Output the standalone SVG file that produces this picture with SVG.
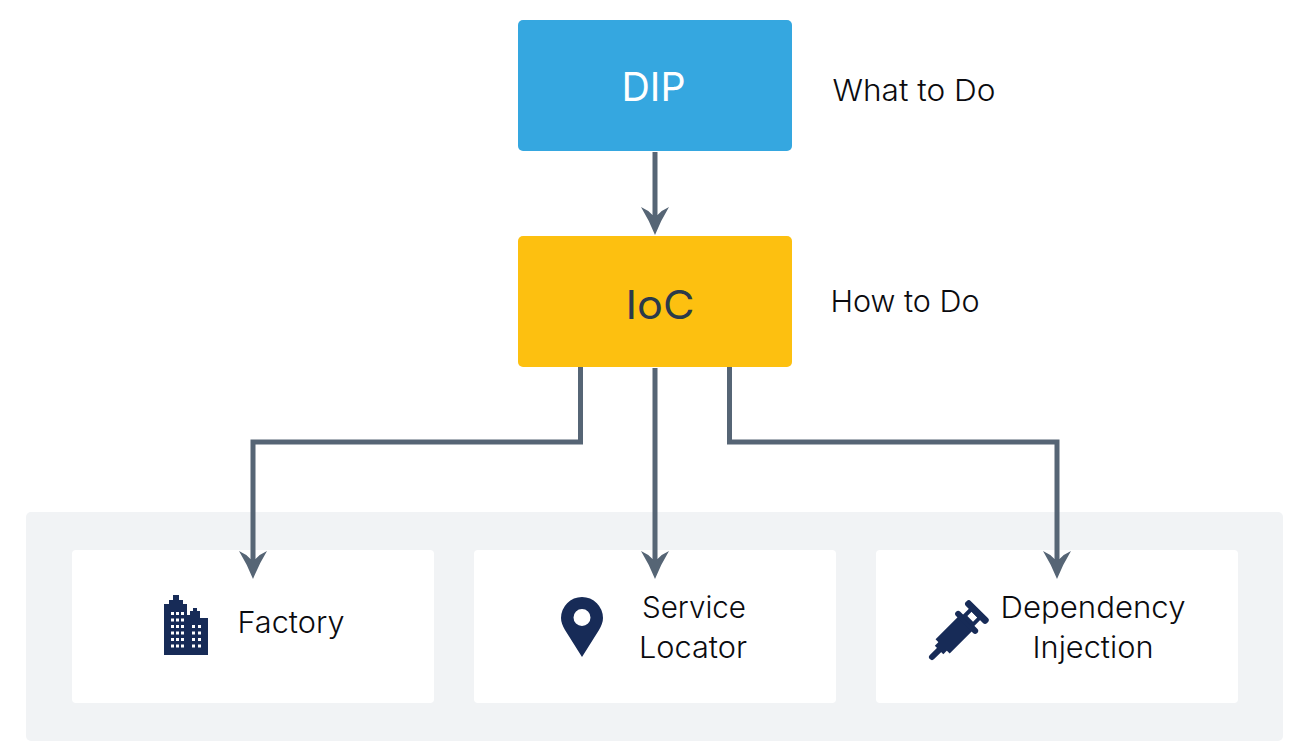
<svg xmlns="http://www.w3.org/2000/svg" width="1299" height="750" viewBox="0 0 1299 750">
<style>
text{font-family:"Inter","Liberation Sans",sans-serif;text-anchor:middle;fill:#0b0b0f}
.lab{font-size:30px;font-weight:300}
.conn{fill:none;stroke:#566575;stroke-width:5}
.card{fill:#fff}
.ico{fill:#172b57}
</style>
<defs>
<path id="ah" d="M-14-28Q-7-25-2.500-20H2.500Q7-25 14-28Q6-15 0 0Q-6-15-14-28Z" fill="#566575"/>
</defs>
<rect width="1299" height="750" fill="#fff"/>
<g id="panel"><rect x="26" y="512" width="1257" height="229" rx="5" fill="#f1f3f5"/></g>
<g id="dip"><rect x="518" y="20" width="274" height="131" rx="5" fill="#35a7e0"/><text x="653.500" y="101" font-size="40" textLength="64" lengthAdjust="spacingAndGlyphs" style="fill:#fff;font-weight:400">DIP</text></g>
<g id="ioc"><rect x="518" y="236" width="274" height="131" rx="5" fill="#fdc010"/><text x="660" y="319" font-size="40" textLength="69" lengthAdjust="spacingAndGlyphs" style="fill:#2b3a4a;font-weight:400">IoC</text></g>
<g id="what"><text class="lab" x="914" y="101" textLength="163" lengthAdjust="spacingAndGlyphs">What to Do</text></g>
<g id="how"><text class="lab" x="905" y="312" textLength="149" lengthAdjust="spacingAndGlyphs">How to Do</text></g>
<g id="factory"><rect class="card" x="72" y="550" width="362" height="153" rx="4"/>
<path class="ico" d="M164 655V604H169V600H173V595H179V600H183V604H187V615H190V611H193V608H197V611H200V618H208V655Z"/>
<g fill="#fff"><path d="M171 612h3v3h-3zM176 612h3v3h-3zM181 612h3v3h-3zM171 618.500h3v3h-3zM176 618.500h3v3h-3zM181 618.500h3v3h-3zM171 625h3v3h-3zM176 625h3v3h-3zM181 625h3v3h-3zM171 631.500h3v3h-3zM176 631.500h3v3h-3zM181 631.500h3v3h-3zM171 638h3v3h-3zM176 638h3v3h-3zM181 638h3v3h-3zM171 644.500h3v3h-3zM176 644.500h3v3h-3zM181 644.500h3v3h-3zM192 625h3v3h-3zM198 625h3v3h-3zM192 631.500h3v3h-3zM198 631.500h3v3h-3zM192 638h3v3h-3zM198 638h3v3h-3zM192 644.500h3v3h-3zM198 644.500h3v3h-3z"/></g>
<text class="lab" x="291" y="633" textLength="107" lengthAdjust="spacingAndGlyphs">Factory</text></g>
<g id="locator"><rect class="card" x="474" y="550" width="362" height="153" rx="4"/>
<path class="ico" fill-rule="evenodd" d="M582 657L565 630Q561 623 561 618A21 21 0 0 1 603 618Q603 623 599 630ZM582 609A8.500 8.500 0 1 0 582 626A8.500 8.500 0 1 0 582 609Z"/>
<text class="lab" x="694" y="618" textLength="104" lengthAdjust="spacingAndGlyphs">Service</text><text class="lab" x="693" y="658" textLength="108" lengthAdjust="spacingAndGlyphs">Locator</text></g>
<g id="di"><rect class="card" x="876" y="550" width="362" height="153" rx="4"/>
<g transform="translate(932 657) rotate(-45)">
<rect class="ico" x="-3" y="-3" width="18" height="6" rx="3"/>
<rect class="ico" x="10" y="-6" width="8" height="12"/>
<rect class="ico" x="15" y="-10" width="35" height="20"/>
<rect class="ico" x="46" y="-15" width="6" height="30" rx="3"/>
<path class="ico" fill-rule="evenodd" d="M50-8H63V8H50ZM54-4V4H60V-4Z"/>
<rect class="ico" x="60" y="-15" width="7" height="30" rx="3"/>
</g>
<text class="lab" x="1093" y="618" textLength="185" lengthAdjust="spacingAndGlyphs">Dependency</text><text class="lab" x="1093" y="658" textLength="121" lengthAdjust="spacingAndGlyphs">Injection</text></g>
<g id="connectors">
<path class="conn" d="M655 152V216"/>
<path class="conn" d="M655 368V560"/>
<path class="conn" d="M580.500 367V442H253V560"/>
<path class="conn" d="M729.500 367V442H1057V560"/>
<use href="#ah" x="655" y="235"/><use href="#ah" x="253" y="579"/><use href="#ah" x="655" y="579"/><use href="#ah" x="1057" y="579"/>
</g>
</svg>
